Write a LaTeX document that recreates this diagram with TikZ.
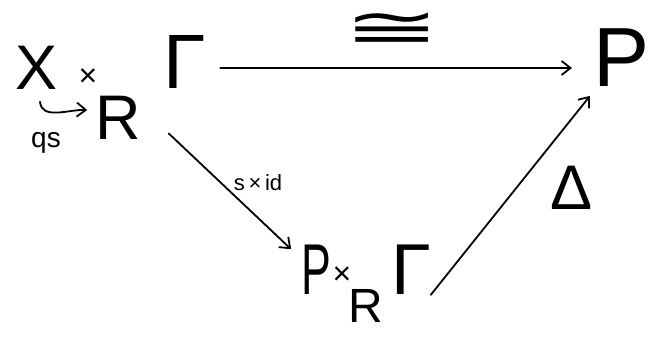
\documentclass[tikz,border=0pt]{standalone}
\usepackage{fontspec}
\setmainfont{Liberation Sans}
\newfontfamily\symfont{DejaVu Sans}
\usetikzlibrary{arrows.meta}
\newcommand{\fs}[1]{\fontsize{#1}{#1}\selectfont}
\begin{document}
\begin{tikzpicture}[x=1pt,y=-1pt,
  lbl/.style={inner sep=0pt,outer sep=0pt},
  arr/.style={line width=1.8pt,line cap=round,-{Straight Barb[length=9pt,width=14pt,line width=1.8pt]}}]
\useasboundingbox (0,0) rectangle (663,339);
% top left object
\node[lbl,font=\fs{63}] (X) at (37,68) {X};
\node[lbl,font=\fs{32}] (T1) at (88,78) {×};
\node[lbl,font=\fs{63}] (R1) at (118,118) {R};
\node[lbl,font=\fs{77}] (G1) at (185,62) {Γ};
\node[lbl,font=\fs{28}] (qs) at (46,143) {qs};
% top right
\node[lbl,font=\fs{84}] (P1) at (622,58) {P};
% bottom
\node[lbl,font=\fs{72}] (P2) at (316,270) {\scalebox{0.62}[1]{P}};
\node[lbl,font=\fs{32}] (T2) at (342,276) {×};
\node[lbl,font=\fs{48}] (R2) at (366,306) {R};
\node[lbl,font=\fs{72}] (G2) at (411,270) {Γ};
% labels
\node[lbl] (iso) at (392,30) {\scalebox{2}[1]{\symfont\fs{58}≅}};
\node[lbl,font=\fs{22}] (sid) at (258,183) {s\,×\,id};
\node[lbl,font=\fs{63}] (D) at (572,188) {Δ};
% arrows
\draw[arr] ([shift={(3pt,-12pt)}]X.south) to[out=-85,in=178] ([shift={(-8pt,8pt)}]R1.west);
\draw[arr] ([shift={(14pt,-6pt)}]G1.east) -- ([shift={(-22pt,-10pt)}]P1.west);
\draw[arr] ([shift={(5pt,-45pt)}]G1.south west) -- ([shift={(-10pt,-4pt)}]P2.north west);
\draw[arr] (G2.south east) -- ([shift={(-4pt,-9pt)}]P1.south west);
\end{tikzpicture}
\end{document}
